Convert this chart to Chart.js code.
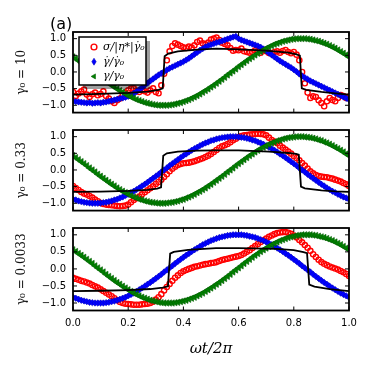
<!DOCTYPE html>
<html>
<head>
<meta charset="utf-8">
<script src="https://cdn.jsdelivr.net/npm/chart.js@4.4.1/dist/chart.umd.min.js"></script>
<style>
  html, body { margin: 0; padding: 0; background: #fff; }
  #wrap { position: relative; width: 374px; height: 372px; overflow: hidden; }
  #wrap canvas { position: absolute; left: 0; }
</style>
</head>
<body>
<div id="wrap">
  <canvas id="c1" width="374" height="118" style="top:0px"></canvas>
  <canvas id="c2" width="374" height="98" style="top:118px"></canvas>
  <canvas id="c3" width="374" height="156" style="top:216px"></canvas>
</div>
<script>
// sample positions (omega t / 2 pi)
const phase = [0,0.01,0.02,0.03,0.04,0.05,0.06,0.07,0.08,0.09,
  0.10,0.11,0.12,0.13,0.14,0.15,0.16,0.17,0.18,0.19,
  0.20,0.21,0.22,0.23,0.24,0.25,0.26,0.27,0.28,0.29,
  0.30,0.31,0.32,0.33,0.34,0.35,0.36,0.37,0.38,0.39,
  0.40,0.41,0.42,0.43,0.44,0.45,0.46,0.47,0.48,0.49,
  0.50,0.51,0.52,0.53,0.54,0.55,0.56,0.57,0.58,0.59,
  0.60,0.61,0.62,0.63,0.64,0.65,0.66,0.67,0.68,0.69,
  0.70,0.71,0.72,0.73,0.74,0.75,0.76,0.77,0.78,0.79,
  0.80,0.81,0.82,0.83,0.84,0.85,0.86,0.87,0.88,0.89,
  0.90,0.91,0.92,0.93,0.94,0.95,0.96,0.97,0.98,0.99,1.00];

// gamma0 = 10
const sigma10 = [-0.60,-0.72,-0.65,-0.58,-0.53,-0.68,-0.75,-0.67,-0.62,-0.70,
  -0.66,-0.58,-0.72,-0.80,-0.88,-0.93,-0.85,-0.80,-0.70,-0.62,
  -0.55,-0.50,-0.49,-0.56,-0.60,-0.53,-0.58,-0.62,-0.55,-0.49,
  -0.60,-0.64,-0.40,-0.05,0.35,0.62,0.78,0.86,0.82,0.78,
  0.74,0.72,0.76,0.73,0.80,0.90,0.94,0.86,0.83,0.88,
  0.97,1.00,1.03,0.96,0.88,0.84,0.80,0.72,0.64,0.66,
  0.65,0.70,0.62,0.60,0.58,0.60,0.65,0.62,0.58,0.65,
  0.62,0.57,0.55,0.60,0.62,0.58,0.63,0.66,0.60,0.56,
  0.60,0.52,0.35,0.00,-0.34,-0.62,-0.78,-0.73,-0.75,-0.85,
  -0.93,-1.03,-0.88,-0.78,-0.84,-0.88,-0.78,-0.69,-0.72,-0.78,-0.74];
const rate10 = [-0.88,-0.89,-0.90,-0.91,-0.92,-0.93,-0.92,-0.94,-0.93,-0.92,
  -0.93,-0.91,-0.90,-0.88,-0.86,-0.84,-0.82,-0.80,-0.78,-0.76,
  -0.73,-0.69,-0.64,-0.59,-0.53,-0.47,-0.40,-0.33,-0.27,-0.21,
  -0.15,-0.09,-0.04,0.01,0.06,0.11,0.15,0.19,0.23,0.27,
  0.31,0.36,0.41,0.47,0.53,0.59,0.65,0.70,0.75,0.79,
  0.82,0.85,0.88,0.90,0.93,0.96,0.99,1.02,1.05,1.07,
  1.00,0.96,0.93,0.90,0.87,0.84,0.81,0.78,0.74,0.69,
  0.63,0.57,0.51,0.45,0.39,0.33,0.28,0.23,0.18,0.13,
  0.07,0.01,-0.06,-0.12,-0.17,-0.22,-0.27,-0.31,-0.35,-0.39,
  -0.43,-0.47,-0.51,-0.55,-0.59,-0.63,-0.67,-0.71,-0.75,-0.79,-0.83];
const strain10 = [0.45,0.40,0.34,0.28,0.22,0.16,0.09,0.03,-0.03,-0.09,
  -0.16,-0.22,-0.28,-0.34,-0.40,-0.45,-0.51,-0.56,-0.61,-0.66,
  -0.71,-0.75,-0.79,-0.83,-0.86,-0.89,-0.92,-0.94,-0.96,-0.98,
  -0.99,-1.00,-1.00,-1.00,-1.00,-0.99,-0.98,-0.96,-0.94,-0.92,
  -0.89,-0.86,-0.83,-0.79,-0.75,-0.71,-0.66,-0.61,-0.56,-0.51,
  -0.45,-0.40,-0.34,-0.28,-0.22,-0.16,-0.09,-0.03,0.03,0.09,
  0.16,0.22,0.28,0.34,0.40,0.45,0.51,0.56,0.61,0.66,
  0.71,0.75,0.79,0.83,0.86,0.89,0.92,0.94,0.96,0.98,
  0.99,1.00,1.00,1.00,1.00,0.99,0.98,0.96,0.94,0.92,
  0.89,0.86,0.83,0.79,0.75,0.71,0.66,0.61,0.56,0.51,0.45];
const model10X = [0,0.1,0.2,0.27,0.31,0.325,0.332,0.345,0.38,0.45,0.52,0.6,0.7,0.78,0.81,0.822,0.829,0.845,0.9,0.95,1.0];
const model10 = [-0.68,-0.66,-0.63,-0.59,-0.54,-0.49,0.47,0.55,0.62,0.67,0.70,0.68,0.64,0.58,0.53,0.49,-0.49,-0.54,-0.60,-0.64,-0.68];

// gamma0 = 0.33
const sigma033 = [-0.48,-0.54,-0.60,-0.66,-0.71,-0.74,-0.78,-0.83,-0.89,-0.94,
  -0.99,-1.02,-1.04,-1.05,-1.06,-1.07,-1.08,-1.09,-1.08,-1.07,
  -1.04,-0.97,-0.90,-0.85,-0.80,-0.73,-0.67,-0.61,-0.55,-0.49,
  -0.42,-0.36,-0.29,-0.21,-0.13,-0.04,0.04,0.10,0.15,0.18,
  0.20,0.21,0.22,0.24,0.26,0.29,0.32,0.35,0.39,0.43,
  0.48,0.54,0.60,0.66,0.71,0.74,0.78,0.83,0.89,0.94,
  0.99,1.02,1.04,1.05,1.06,1.07,1.08,1.09,1.08,1.07,
  1.04,0.97,0.90,0.85,0.80,0.73,0.67,0.61,0.55,0.49,
  0.42,0.36,0.29,0.21,0.13,0.04,-0.04,-0.10,-0.15,-0.18,
  -0.20,-0.21,-0.22,-0.24,-0.26,-0.29,-0.32,-0.35,-0.39,-0.43,-0.48];
const rate033 = [-0.88,-0.90,-0.93,-0.95,-0.97,-0.98,-0.99,-1.00,-1.00,-1.00,
  -0.99,-0.98,-0.97,-0.95,-0.93,-0.90,-0.88,-0.84,-0.81,-0.77,
  -0.73,-0.68,-0.64,-0.59,-0.54,-0.48,-0.43,-0.37,-0.31,-0.25,
  -0.19,-0.13,-0.06,0.00,0.06,0.13,0.19,0.25,0.31,0.37,
  0.43,0.48,0.54,0.59,0.64,0.68,0.73,0.77,0.81,0.84,
  0.88,0.90,0.93,0.95,0.97,0.98,0.99,1.00,1.00,1.00,
  0.99,0.98,0.97,0.95,0.93,0.90,0.88,0.84,0.81,0.77,
  0.73,0.68,0.64,0.59,0.54,0.48,0.43,0.37,0.31,0.25,
  0.19,0.13,0.06,0.00,-0.06,-0.13,-0.19,-0.25,-0.31,-0.37,
  -0.43,-0.48,-0.54,-0.59,-0.64,-0.68,-0.73,-0.77,-0.81,-0.84,-0.88];
const strain033 = [0.43,0.37,0.31,0.25,0.19,0.13,0.06,0.00,-0.06,-0.13,
  -0.19,-0.25,-0.31,-0.37,-0.43,-0.48,-0.54,-0.59,-0.64,-0.68,
  -0.73,-0.77,-0.81,-0.84,-0.88,-0.90,-0.93,-0.95,-0.97,-0.98,
  -0.99,-1.00,-1.00,-1.00,-0.99,-0.98,-0.97,-0.95,-0.93,-0.90,
  -0.88,-0.84,-0.81,-0.77,-0.73,-0.68,-0.64,-0.59,-0.54,-0.48,
  -0.43,-0.37,-0.31,-0.25,-0.19,-0.13,-0.06,0.00,0.06,0.13,
  0.19,0.25,0.31,0.37,0.43,0.48,0.54,0.59,0.64,0.68,
  0.73,0.77,0.81,0.84,0.88,0.90,0.93,0.95,0.97,0.98,
  0.99,1.00,1.00,1.00,0.99,0.98,0.97,0.95,0.93,0.90,
  0.88,0.84,0.81,0.77,0.73,0.68,0.64,0.59,0.54,0.48,0.43];
const model033X = [0,0.1,0.2,0.27,0.305,0.319,0.327,0.34,0.38,0.45,0.51,0.6,0.71,0.78,0.808,0.818,0.826,0.84,0.9,0.95,1.0];
const model033 = [-0.66,-0.65,-0.63,-0.60,-0.56,-0.52,0.43,0.50,0.55,0.58,0.59,0.59,0.55,0.51,0.48,0.46,-0.50,-0.55,-0.61,-0.64,-0.66];

// gamma0 = 0.0033
const sigma0033 = [-0.26,-0.29,-0.32,-0.35,-0.37,-0.40,-0.43,-0.47,-0.51,-0.55,
  -0.60,-0.65,-0.70,-0.75,-0.80,-0.86,-0.92,-0.97,-1.00,-1.02,
  -1.03,-1.04,-1.05,-1.05,-1.05,-1.04,-1.03,-1.02,-1.00,-0.96,
  -0.90,-0.83,-0.74,-0.63,-0.53,-0.44,-0.35,-0.26,-0.19,-0.12,
  -0.07,-0.03,0.00,0.03,0.06,0.08,0.10,0.12,0.14,0.15,
  0.17,0.18,0.20,0.23,0.26,0.28,0.30,0.32,0.34,0.36,
  0.38,0.41,0.45,0.50,0.55,0.61,0.67,0.73,0.79,0.84,
  0.89,0.94,0.98,1.02,1.05,1.07,1.08,1.08,1.06,1.03,
  0.98,0.92,0.85,0.78,0.70,0.62,0.53,0.43,0.35,0.27,
  0.20,0.15,0.11,0.07,0.04,0.01,-0.02,-0.06,-0.10,-0.15,-0.21];
const rate0033 = [-0.83,-0.86,-0.89,-0.92,-0.94,-0.96,-0.98,-0.99,-1.00,-1.00,
  -1.00,-1.00,-0.99,-0.98,-0.96,-0.94,-0.92,-0.89,-0.86,-0.83,
  -0.79,-0.75,-0.71,-0.66,-0.61,-0.56,-0.51,-0.45,-0.40,-0.34,
  -0.28,-0.22,-0.16,-0.09,-0.03,0.03,0.09,0.16,0.22,0.28,
  0.34,0.40,0.45,0.51,0.56,0.61,0.66,0.71,0.75,0.79,
  0.83,0.86,0.89,0.92,0.94,0.96,0.98,0.99,1.00,1.00,
  1.00,1.00,0.99,0.98,0.96,0.94,0.92,0.89,0.86,0.83,
  0.79,0.75,0.71,0.66,0.61,0.56,0.51,0.45,0.40,0.34,
  0.28,0.22,0.16,0.09,0.03,-0.03,-0.09,-0.16,-0.22,-0.28,
  -0.34,-0.40,-0.45,-0.51,-0.56,-0.61,-0.66,-0.71,-0.75,-0.79,-0.83];
const strain0033 = [0.56,0.51,0.45,0.40,0.34,0.28,0.22,0.16,0.09,0.03,
  -0.03,-0.09,-0.16,-0.22,-0.28,-0.34,-0.40,-0.45,-0.51,-0.56,
  -0.61,-0.66,-0.71,-0.75,-0.79,-0.83,-0.86,-0.89,-0.92,-0.94,
  -0.96,-0.98,-0.99,-1.00,-1.00,-1.00,-1.00,-0.99,-0.98,-0.96,
  -0.94,-0.92,-0.89,-0.86,-0.83,-0.79,-0.75,-0.71,-0.66,-0.61,
  -0.56,-0.51,-0.45,-0.40,-0.34,-0.28,-0.22,-0.16,-0.09,-0.03,
  0.03,0.09,0.16,0.22,0.28,0.34,0.40,0.45,0.51,0.56,
  0.61,0.66,0.71,0.75,0.79,0.83,0.86,0.89,0.92,0.94,
  0.96,0.98,0.99,1.00,1.00,1.00,1.00,0.99,0.98,0.96,
  0.94,0.92,0.89,0.86,0.83,0.79,0.75,0.71,0.66,0.61,0.56];
const model0033X = [0,0.1,0.2,0.28,0.325,0.344,0.352,0.365,0.417,0.518,0.6,0.737,0.8,0.835,0.848,0.856,0.875,0.93,1.0];
const model0033 = [-0.65,-0.64,-0.62,-0.59,-0.55,-0.51,0.45,0.50,0.56,0.61,0.61,0.59,0.55,0.49,0.46,-0.46,-0.52,-0.59,-0.65];

const panelLabels = ['\u03B3\u2080 = 10', '\u03B3\u2080 = 0.33', '\u03B3\u2080 = 0.0033'];
const seriesLabels = ['\u03C3/|\u03B7*|\u03B3\u0307\u2080', '\u03B3\u0307/\u03B3\u0307\u2080', '\u03B3/\u03B3\u2080'];
const xTicks = [0, 0.2, 0.4, 0.6, 0.8, 1.0];
const yTicks = [-1.0, -0.5, 0.0, 0.5, 1.0];

// marker look per series (red circles, blue diamonds, green left triangles)
const markerStyles = [
  { style: 'circle', radius: 2.6, rotation: 0, fill: 'rgba(255,255,255,0)', stroke: '#ff0000', width: 1.4 },
  { style: 'rectRot', radius: 3.2, rotation: 0, fill: '#0000ff', stroke: '#0000c0', width: 0.6 },
  { style: 'triangle', radius: 3.7, rotation: -90, fill: '#008000', stroke: '#006000', width: 0.6 }
];

function fmt(v) {
  return (v < -1e-9 ? '\u2212' : '') + Math.abs(v).toFixed(1);
}

function pointsOf(xs, ys) {
  return xs.map((x, i) => ({ x: x, y: ys[i] }));
}

function markerDataset(label, ys, st, order) {
  return {
    label: label,
    data: pointsOf(phase, ys),
    showLine: false,
    pointStyle: st.style,
    pointRadius: st.radius,
    pointRotation: st.rotation,
    pointBackgroundColor: st.fill,
    pointBorderColor: st.stroke,
    pointBorderWidth: st.width,
    clip: 0,
    order: order
  };
}

// frame with inward ticks on all four sides
const framePlugin = {
  id: 'frame',
  afterDraw(chart) {
    const { ctx, chartArea: a, scales } = chart;
    ctx.save();
    ctx.strokeStyle = '#000';
    ctx.lineWidth = 1;
    ctx.beginPath();
    xTicks.forEach(v => {
      const px = scales.x.getPixelForValue(v);
      ctx.moveTo(px, a.bottom); ctx.lineTo(px, a.bottom - 4);
      ctx.moveTo(px, a.top); ctx.lineTo(px, a.top + 4);
    });
    yTicks.forEach(v => {
      const py = scales.y.getPixelForValue(v);
      ctx.moveTo(a.left, py); ctx.lineTo(a.left + 4, py);
      ctx.moveTo(a.right, py); ctx.lineTo(a.right - 4, py);
    });
    ctx.stroke();
    ctx.lineWidth = 1.8;
    ctx.strokeRect(a.left, a.top, a.right - a.left, a.bottom - a.top);
    ctx.restore();
  }
};

function drawMarker(ctx, st, x, y, r) {
  ctx.beginPath();
  if (st.style === 'circle') {
    ctx.arc(x, y, r, 0, Math.PI * 2);
  } else if (st.style === 'rectRot') {
    ctx.moveTo(x, y - r * 1.2); ctx.lineTo(x + r * 0.75, y);
    ctx.lineTo(x, y + r * 1.2); ctx.lineTo(x - r * 0.75, y);
    ctx.closePath();
  } else {
    ctx.moveTo(x - r, y); ctx.lineTo(x + r * 0.5, y - r * 0.87);
    ctx.lineTo(x + r * 0.5, y + r * 0.87); ctx.closePath();
  }
  ctx.fillStyle = st.fill;
  ctx.fill();
  ctx.strokeStyle = st.stroke;
  ctx.lineWidth = st.style === 'circle' ? 1.4 : st.width;
  ctx.stroke();
}

// boxed legend with shadow and the "(a)" tag, first panel only
const legendPlugin = {
  id: 'boxLegend',
  afterDatasetsDraw(chart) {
    const { ctx, chartArea: a } = chart;
    const bx = a.left + 6, by = a.top + 5, bw = 67, bh = 48;
    ctx.save();
    ctx.fillStyle = 'rgba(0,0,0,0.38)';
    ctx.fillRect(bx + 4, by + 4, bw, bh);
    ctx.fillStyle = '#fff';
    ctx.fillRect(bx, by, bw, bh);
    ctx.strokeStyle = '#000';
    ctx.lineWidth = 1.5;
    ctx.strokeRect(bx, by, bw, bh);
    ctx.font = 'italic 11px "DejaVu Serif"';
    ctx.textBaseline = 'middle';
    seriesLabels.forEach((label, i) => {
      const cy = by + 10 + i * 14.7;
      drawMarker(ctx, markerStyles[i], bx + 15, cy, 2.9);
      ctx.fillStyle = '#000';
      ctx.fillText(label, bx + 24, cy);
    });
    ctx.font = '16px "DejaVu Sans"';
    ctx.textBaseline = 'alphabetic';
    ctx.fillStyle = '#000';
    ctx.fillText('(a)', 50, 29);
    ctx.restore();
  }
};

function makePanel(canvasId, sigma, rate, strain, modelX, model, label, padTop, padBottom, showX, extra) {
  const datasets = [
    {
      label: 'model',
      data: pointsOf(modelX, model),
      showLine: true,
      borderColor: '#000',
      borderWidth: 1.8,
      pointRadius: 0,
      tension: 0,
      fill: false,
      clip: 0,
      order: 0
    },
    markerDataset(seriesLabels[2], strain, markerStyles[2], 1),
    markerDataset(seriesLabels[1], rate, markerStyles[1], 2),
    markerDataset(seriesLabels[0], sigma, markerStyles[0], 3)
  ];
  const xScale = {
    type: 'linear', min: 0, max: 1, display: showX,
    afterBuildTicks: s => { s.ticks = xTicks.map(v => ({ value: v })); },
    grid: { display: false, drawTicks: false },
    border: { display: false },
    ticks: {
      padding: 6.5, color: '#000', maxRotation: 0, autoSkip: false,
      font: { family: 'DejaVu Sans', size: 10 },
      callback: v => v.toFixed(1)
    },
    title: {
      display: showX, text: '\u03C9t/2\u03C0', color: '#000',
      font: { family: 'DejaVu Serif', size: 15, style: 'italic' },
      padding: { top: 0, bottom: 14 }
    }
  };
  if (showX) xScale.afterFit = s => { s.height = 61.5; };
  return new Chart(document.getElementById(canvasId), {
    type: 'scatter',
    data: { datasets: datasets },
    options: {
      responsive: false,
      animation: false,
      events: [],
      layout: { padding: { top: padTop, right: 25, bottom: padBottom, left: 0 } },
      plugins: { legend: { display: false }, tooltip: { enabled: false } },
      scales: {
        x: xScale,
        y: {
          type: 'linear', min: -1.22, max: 1.2,
          afterBuildTicks: s => { s.ticks = yTicks.map(v => ({ value: v })); },
          // fixed axis width, and no extra label margin above/below the plot
          afterFit: s => { s.width = 73; s.paddingTop = 0; s.paddingBottom = 0; },
          grid: { display: false, drawTicks: false },
          border: { display: false },
          ticks: {
            padding: 7, color: '#000',
            font: { family: 'DejaVu Sans', size: 10 },
            callback: v => fmt(v)
          },
          title: {
            display: true, text: label, color: '#111',
            font: { family: 'DejaVu Serif', size: 12 },
            padding: { top: 15, bottom: 0 }
          }
        }
      }
    },
    plugins: extra ? [framePlugin, legendPlugin] : [framePlugin]
  });
}

makePanel('c1', sigma10, rate10, strain10, model10X, model10, panelLabels[0], 32, 3, false, true);
makePanel('c2', sigma033, rate033, strain033, model033X, model033, panelLabels[1], 12, 3.5, false, false);
makePanel('c3', sigma0033, rate0033, strain0033, model0033X, model0033, panelLabels[2], 12, 0, true, false);
</script>
</body>
</html>
